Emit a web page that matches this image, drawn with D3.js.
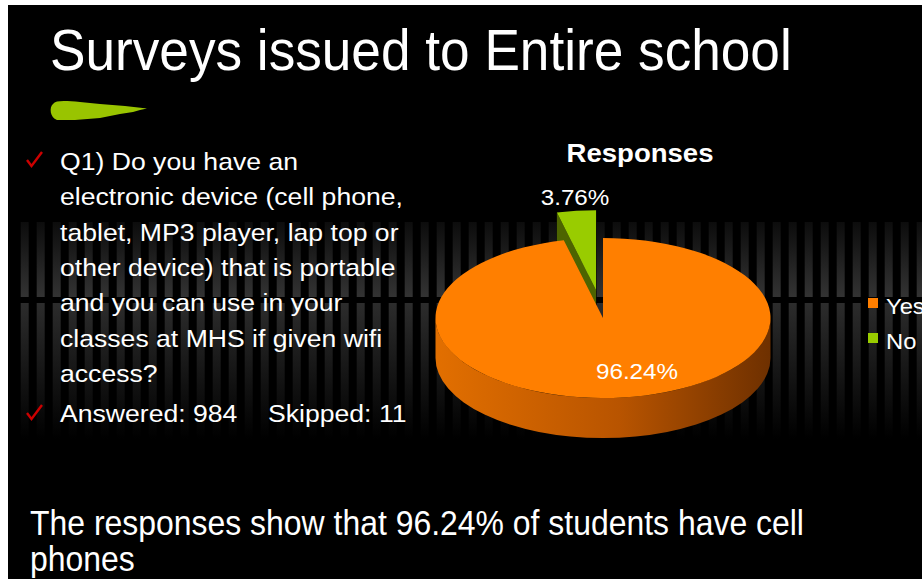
<!DOCTYPE html>
<html>
<head>
<meta charset="utf-8">
<script src="https://cdn.jsdelivr.net/npm/d3@7"></script>
<style>
  body { margin: 0; background: #fff; }
  svg { display: block; }
  text { font-family: "Liberation Sans", Arial, Helvetica, sans-serif; fill: #fff; }
</style>
</head>
<body>
<div id="chart"></div>
<script>
// chart data
var categories = ["Yes", "No"];
var responses = [96.24, 3.76];
var sliceColors = ["#ff7f00", "#99cc00"];
var labels = ["96.24%", "3.76%"];

// slide text
var titleText = "Surveys issued to Entire school";
var chartTitle = "Responses";
var questionLines = [
  "Q1) Do you have an",
  "electronic device (cell phone,",
  "tablet, MP3 player, lap top or",
  "other device) that is portable",
  "and you can use in your",
  "classes at MHS if given wifi",
  "access?"
];
var answeredText = "Answered: 984";
var skippedText = "Skipped: 11";
var summaryLines = ["The responses show that 96.24% of students have cell", "phones"];

var width = 922, height = 579;

var svg = d3.select("#chart").append("svg")
  .attr("width", width)
  .attr("height", height);

var defs = svg.append("defs");

var upGrad = defs.append("linearGradient").attr("id", "stripeUp")
  .attr("x1", 0).attr("y1", 0).attr("x2", 0).attr("y2", 1);
upGrad.append("stop").attr("offset", "0%").attr("stop-color", "#0c0c0c");
upGrad.append("stop").attr("offset", "100%").attr("stop-color", "#333");

var downGrad = defs.append("linearGradient").attr("id", "stripeDown")
  .attr("x1", 0).attr("y1", 0).attr("x2", 0).attr("y2", 1);
downGrad.append("stop").attr("offset", "0%").attr("stop-color", "#2c2c2c");
downGrad.append("stop").attr("offset", "100%").attr("stop-color", "#000");

var sideGrad = defs.append("linearGradient").attr("id", "sideYes")
  .attr("x1", 0).attr("y1", 0).attr("x2", 1).attr("y2", 0);
sideGrad.append("stop").attr("offset", "0%").attr("stop-color", "#e26f00");
sideGrad.append("stop").attr("offset", "55%").attr("stop-color", "#b85400");
sideGrad.append("stop").attr("offset", "100%").attr("stop-color", "#6e3000");

// black slide on white page
svg.append("rect")
  .attr("x", 8).attr("y", 5)
  .attr("width", width - 8).attr("height", height - 5)
  .attr("fill", "#000");

// striped band behind the content
var stripeX = d3.range(20.7, width, 16);
svg.append("g").selectAll("rect")
  .data(stripeX)
  .enter()
  .append("rect")
  .attr("x", d => d).attr("y", 222)
  .attr("width", 8).attr("height", 75)
  .attr("fill", "url(#stripeUp)");
svg.append("g").selectAll("rect")
  .data(stripeX)
  .enter()
  .append("rect")
  .attr("x", d => d).attr("y", 303)
  .attr("width", 8).attr("height", 136)
  .attr("fill", "url(#stripeDown)");

// title
var title = svg.append("text")
  .attr("font-size", 58)
  .text(titleText);
var tScale = 742 / title.node().getComputedTextLength();
title.attr("transform", `translate(50, 70) scale(${tScale}, 1)`);

// green brush mark under title
svg.append("path")
  .attr("d", "M53,104 C56,100 66,101 80,102 L100,104 L125,106 L147,108.5 L140,110 L133,112 L120,114 L100,118 L75,120 L57,120 C50,118 49,107 53,104 Z")
  .attr("fill", "#99c400");

// question text
var qGroup = svg.append("g");
var refLine = qGroup.append("text").attr("font-size", 24).text(questionLines[1]);
var bodyScale = 343 / refLine.node().getComputedTextLength();
refLine.remove();

var lineY = d3.range(questionLines.length).map(i => 170 + i * 35.3);
qGroup.selectAll("text.q")
  .data(questionLines)
  .enter()
  .append("text")
  .attr("class", "q")
  .attr("font-size", 24)
  .attr("transform", (d, i) => `translate(60, ${lineY[i]}) scale(${bodyScale}, 1)`)
  .text(d => d);

qGroup.append("text")
  .attr("font-size", 24)
  .attr("transform", `translate(60, 422) scale(${bodyScale}, 1)`)
  .text(answeredText);
qGroup.append("text")
  .attr("font-size", 24)
  .attr("transform", `translate(268, 422) scale(${bodyScale}, 1)`)
  .text(skippedText);

// red check bullets
[152, 405].forEach(function(y) {
  svg.append("path")
    .attr("d", `M27,${y + 8} L31.5,${y + 14} L42,${y}`)
    .attr("fill", "none")
    .attr("stroke", "#cc0000")
    .attr("stroke-width", 2.4);
});

// 3D pie
var cx = 603, cy = 318, rx = 167.5, ry = 80, depth = 40, explode = 0.35;

var pie = d3.pie().sort(null).value(d => d);
var arcs = pie(responses);

function pt(a, o, dz) {
  return [cx + o[0] + rx * Math.sin(a), cy + o[1] - ry * Math.cos(a) + (dz || 0)];
}

function offsetFor(d, i) {
  if (categories[i] !== "No") return [0, 0];
  var mid = (d.startAngle + d.endAngle) / 2;
  return [explode * rx * Math.sin(mid), -explode * ry * Math.cos(mid)];
}

function topPath(d, o) {
  var p0 = pt(d.startAngle, o), p1 = pt(d.endAngle, o);
  var large = d.endAngle - d.startAngle > Math.PI ? 1 : 0;
  return `M${cx + o[0]},${cy + o[1]} L${p0[0]},${p0[1]} A${rx},${ry} 0 ${large} 1 ${p1[0]},${p1[1]} Z`;
}

function outerSide(d, o) {
  var a0 = Math.max(d.startAngle, Math.PI / 2);
  var a1 = Math.min(d.endAngle, 3 * Math.PI / 2);
  if (a1 <= a0) return null;
  var p0 = pt(a0, o), p1 = pt(a1, o), q1 = pt(a1, o, depth), q0 = pt(a0, o, depth);
  return `M${p0[0]},${p0[1]} A${rx},${ry} 0 0 1 ${p1[0]},${p1[1]} L${q1[0]},${q1[1]} A${rx},${ry} 0 0 0 ${q0[0]},${q0[1]} Z`;
}

function radialSide(a, o) {
  var p = pt(a, o), q = pt(a, o, depth);
  var c0 = [cx + o[0], cy + o[1]];
  return `M${c0[0]},${c0[1]} L${p[0]},${p[1]} L${q[0]},${q[1]} L${c0[0]},${c0[1] + depth} Z`;
}

var pieG = svg.append("g");

// exploded slice first (it sits behind)
arcs.forEach(function(d, i) {
  if (categories[i] !== "No") return;
  var o = offsetFor(d, i);
  pieG.append("path").attr("d", radialSide(d.startAngle, o)).attr("fill", "#4d6400");
  pieG.append("path").attr("d", topPath(d, o)).attr("fill", sliceColors[i]);
});

arcs.forEach(function(d, i) {
  if (categories[i] === "No") return;
  var o = offsetFor(d, i);
  var side = outerSide(d, o);
  if (side) pieG.append("path").attr("d", side).attr("fill", "url(#sideYes)");
  pieG.append("path").attr("d", topPath(d, o)).attr("fill", sliceColors[i]);
});

// pie labels
var labelPos = [[637, 379], [575, 205]];
arcs.forEach(function(d, i) {
  svg.append("text")
    .attr("font-size", 22)
    .attr("text-anchor", "middle")
    .attr("transform", `translate(${labelPos[i][0]}, ${labelPos[i][1]}) scale(1.1, 1)`)
    .text(labels[i]);
});

// chart title
svg.append("text")
  .attr("font-size", 26)
  .attr("font-weight", "bold")
  .attr("text-anchor", "middle")
  .attr("transform", "translate(640, 162) scale(1.06, 1)")
  .text(chartTitle);

// legend
var legend = svg.append("g").attr("transform", "translate(868, 298)");
categories.forEach(function(c, i) {
  legend.append("rect")
    .attr("x", 0).attr("y", i * 35)
    .attr("width", 10).attr("height", 10)
    .attr("fill", sliceColors[i]);
  legend.append("text")
    .attr("font-size", 22)
    .attr("transform", `translate(18, ${i * 35 + 15.5}) scale(1.08, 1)`)
    .text(c);
});

// summary at the bottom
var sum1 = svg.append("text").attr("font-size", 35).text(summaryLines[0]);
var sScale = 774 / sum1.node().getComputedTextLength();
sum1.attr("transform", `translate(30, 535) scale(${sScale}, 1)`);
svg.append("text")
  .attr("font-size", 35)
  .attr("transform", `translate(30, 571) scale(${sScale}, 1)`)
  .text(summaryLines[1]);
</script>
</body>
</html>
